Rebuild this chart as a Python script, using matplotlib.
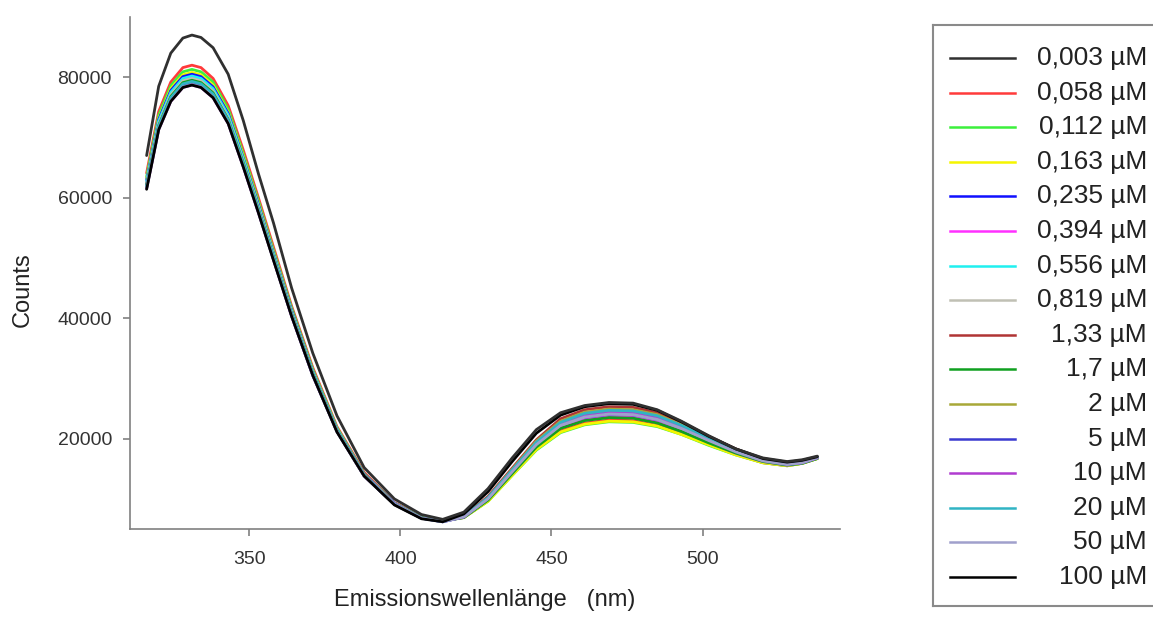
import matplotlib.pyplot as plt

# ─── Data ────────────────────────────────────────────────────────────────────
wavelength = [316, 320, 324, 328, 331, 334, 338, 343, 348, 353, 358, 364, 371,
              379, 388, 398, 407, 414, 421, 429, 437, 445, 453, 461, 469, 477,
              485, 493, 502, 511, 520, 528, 533, 538]

labels = ["0,003 µM", "0,058 µM", "0,112 µM", "0,163 µM", "0,235 µM",
          "0,394 µM", "0,556 µM", "0,819 µM", "1,33 µM", "1,7 µM", "2 µM",
          "5 µM", "10 µM", "20 µM", "50 µM", "100 µM"]

colors = ["#303030", "#ff3b3b", "#3cf03c", "#f5f500", "#1010ff", "#ff30ff",
          "#20f0f0", "#c0c0b4", "#b03434", "#10a020", "#a8a838", "#3a3ad0",
          "#b03cd0", "#30b4c4", "#a0a0cc", "#000000"]

c_0003 = [67000, 78500, 84000, 86500, 87000, 86600, 84900, 80500, 72800, 64000,
          55800, 45000, 34200, 23800, 15200, 10000, 7400, 6600, 7800, 11700,
          16800, 21500, 24300, 25500, 26000, 25900, 24800, 22900, 20500, 18300,
          16800, 16200, 16500, 17100]
c_0058 = [64100, 74300, 79200, 81600, 82000, 81600, 79800, 75300, 67900, 60000,
          51800, 42000, 31800, 22000, 14400, 9400, 7100, 6400, 6900, 9700,
          14000, 18300, 21300, 22600, 23100, 23000, 22200, 20900, 19100, 17400,
          16000, 15500, 15900, 16700]
c_0112 = [63500, 73700, 78600, 80900, 81300, 80900, 79200, 74700, 67300, 59500,
          51300, 41700, 31500, 21800, 14200, 9300, 7000, 6400, 6900, 9600,
          13900, 18100, 21000, 22300, 22800, 22700, 22000, 20700, 18900, 17300,
          16000, 15500, 15900, 16700]
c_0163 = [63100, 73200, 78100, 80400, 80800, 80400, 78700, 74200, 66900, 59100,
          51000, 41400, 31300, 21700, 14100, 9300, 7000, 6400, 6900, 9600,
          13900, 18200, 21100, 22400, 22900, 22800, 22100, 20700, 19000, 17300,
          16000, 15500, 15900, 16700]
c_0235 = [62900, 73000, 77800, 80100, 80500, 80100, 78400, 74000, 66600, 58900,
          50800, 41300, 31200, 21600, 14100, 9300, 6900, 6300, 7000, 9900,
          14400, 18900, 22000, 23400, 23900, 23800, 23000, 21500, 19600, 17700,
          16300, 15700, 16000, 16800]
c_0394 = [62500, 72500, 77300, 79600, 80000, 79600, 77900, 73500, 66200, 58500,
          50500, 41000, 31000, 21500, 14000, 9200, 6900, 6300, 7000, 9900,
          14300, 18700, 21800, 23100, 23600, 23500, 22700, 21300, 19400, 17600,
          16200, 15600, 16000, 16800]
c_0556 = [62700, 72700, 77500, 79800, 80200, 79800, 78100, 73700, 66400, 58600,
          50600, 41100, 31100, 21600, 14000, 9200, 6900, 6300, 7000, 10100,
          14700, 19200, 22500, 23900, 24400, 24300, 23500, 21900, 19900, 17900,
          16400, 15700, 16000, 16800]
c_0819 = [62300, 72300, 77100, 79400, 79800, 79400, 77700, 73300, 66000, 58400,
          50400, 40900, 30900, 21400, 14000, 9200, 6900, 6300, 7000, 10000,
          14500, 19000, 22200, 23600, 24100, 24000, 23200, 21700, 19700, 17800,
          16300, 15700, 16000, 16800]
c_133 = [61900, 71800, 76500, 78800, 79200, 78800, 77100, 72800, 65500, 57900,
         50000, 40600, 30700, 21300, 13900, 9100, 6800, 6300, 7100, 10400,
         15100, 19800, 23300, 24800, 25300, 25200, 24300, 22700, 20400, 18300,
         16600, 15900, 16100, 16900]
c_17 = [62100, 72000, 76800, 79100, 79500, 79100, 77400, 73000, 65800, 58100,
        50200, 40700, 30800, 21400, 13900, 9100, 6900, 6300, 6900, 9800,
        14200, 18600, 21700, 23000, 23500, 23400, 22600, 21200, 19300, 17600,
        16200, 15600, 15900, 16700]
c_2 = [61700, 71600, 76300, 78600, 79000, 78600, 76900, 72600, 65400, 57800,
       49900, 40500, 30600, 21200, 13800, 9100, 6800, 6300, 7100, 10200,
       14900, 19600, 22900, 24400, 24900, 24800, 24000, 22300, 20200, 18100,
       16500, 15800, 16100, 16900]
c_5 = [61800, 71600, 76300, 78600, 79000, 78600, 76900, 72500, 65300, 57700,
       49800, 40400, 30500, 21200, 13800, 9100, 6800, 6200, 7000, 10100,
       14600, 19100, 22400, 23800, 24300, 24200, 23400, 21900, 19800, 17900,
       16400, 15700, 16000, 16800]
c_10 = [61500, 71300, 76000, 78300, 78700, 78300, 76600, 72300, 65100, 57500,
        49700, 40300, 30500, 21200, 13800, 9100, 6800, 6200, 7000, 10100,
        14700, 19300, 22600, 24000, 24500, 24400, 23600, 22000, 19900, 18000,
        16400, 15800, 16000, 16800]
c_20 = [61900, 71900, 76600, 78900, 79300, 78900, 77200, 72900, 65600, 58000,
        50100, 40600, 30700, 21300, 13900, 9100, 6800, 6200, 7100, 10200,
        14800, 19400, 22700, 24200, 24700, 24600, 23800, 22200, 20100, 18000,
        16500, 15800, 16100, 16900]
c_50 = [61600, 71400, 76100, 78400, 78800, 78400, 76700, 72400, 65200, 57600,
        49700, 40400, 30500, 21200, 13800, 9100, 6800, 6200, 7000, 10000,
        14500, 19000, 22200, 23600, 24100, 24000, 23200, 21700, 19700, 17800,
        16300, 15700, 16000, 16800]
c_100 = [61400, 71300, 76000, 78300, 78700, 78300, 76600, 72300, 65100, 57500,
         49600, 40300, 30500, 21100, 13800, 9000, 6700, 6200, 7500, 11200,
         16200, 20900, 23900, 25300, 25800, 25700, 24700, 22800, 20400, 18300,
         16700, 16100, 16400, 17000]

series = [c_0003, c_0058, c_0112, c_0163, c_0235, c_0394, c_0556, c_0819,
          c_133, c_17, c_2, c_5, c_10, c_20, c_50, c_100]

plt.rcParams["font.family"] = ["Liberation Sans", "DejaVu Sans"]

W, H = 1153, 617
fig = plt.figure(figsize=(W / 100, H / 100), dpi=100)
ax = fig.add_axes([130 / W, 1 - 529 / H, (840 - 130) / W, (529 - 17) / H])

# draw the lower curves first, the outer black ones last
order = list(range(1, 15)) + [15, 0]
for i in order:
    ax.plot(wavelength, series[i], color=colors[i], lw=2.0,
            solid_capstyle="round", solid_joinstyle="round")

ax.set_xlim(310.5, 545.5)
ax.set_ylim(5000, 90000)
ax.set_xticks([350, 400, 450, 500])
ax.set_yticks([20000, 40000, 60000, 80000])
for s in ["top", "right"]:
    ax.spines[s].set_visible(False)
for s in ["left", "bottom"]:
    ax.spines[s].set_color("#808080")
    ax.spines[s].set_linewidth(1.2)
ax.tick_params(axis="both", colors="#808080", labelcolor="#333333",
               labelsize=14, length=5, width=1.2)
ax.tick_params(axis="x", pad=11)
ax.tick_params(axis="y", pad=8)

ax.set_xlabel("Emissionswellenlänge   (nm)", fontsize=17, color="#222222")
ax.set_ylabel("Counts", fontsize=17, color="#222222")
ax.xaxis.set_label_coords(0.5, -0.118)
ax.yaxis.set_label_coords(-0.135, 0.467)

# legend box drawn by hand: lines left, labels right-aligned
lax = fig.add_axes([933 / W, 1 - 606 / H, (W - 933) / W, (606 - 25) / H])
lax.set_xlim(933, W)
lax.set_ylim(606, 25)
lax.set_xticks([])
lax.set_yticks([])
lax.spines["right"].set_visible(False)
for s in ["left", "top", "bottom"]:
    lax.spines[s].set_color("#8a8a8a")
    lax.spines[s].set_linewidth(1.5)
for k, (lab, col) in enumerate(zip(labels, colors)):
    y = 58 + k * 34.6
    lax.plot([950, 1015], [y, y], color=col, lw=1.8)
    lax.text(1147, y, lab, ha="right", va="center", fontsize=19,
             color="#222222")

fig.savefig("out.png", dpi=100)
